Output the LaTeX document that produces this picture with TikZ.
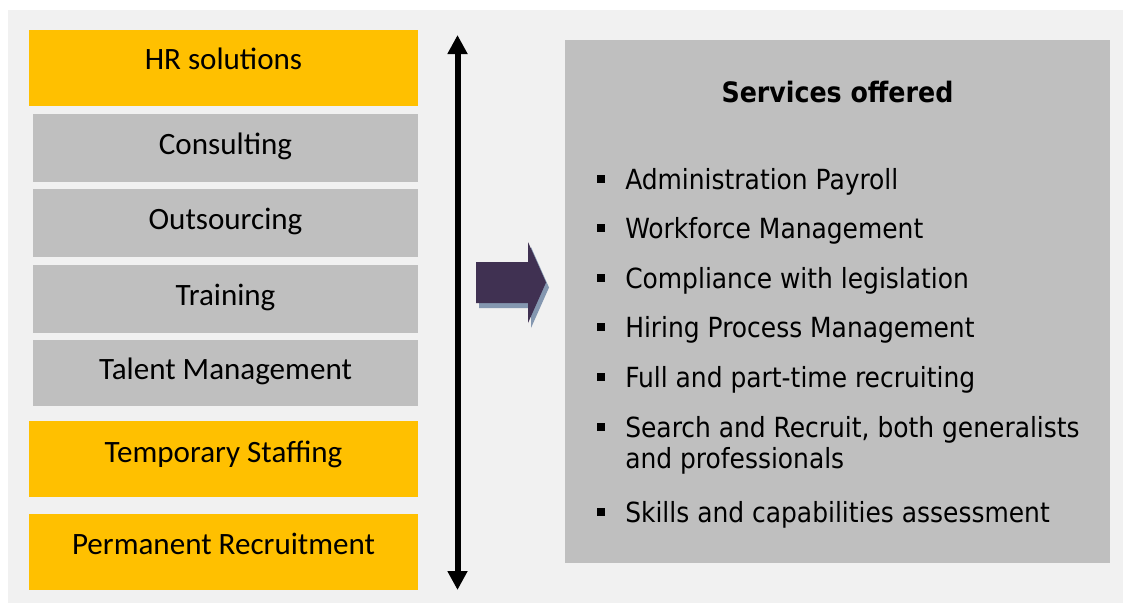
\documentclass[tikz,border=0pt]{standalone}
\usepackage{fontspec}
\setmainfont{Carlito}
\newfontfamily\listfont{DejaVu Sans Condensed}
\usetikzlibrary{arrows.meta}
\definecolor{pagebg}{HTML}{F1F1F1}
\definecolor{keyyellow}{HTML}{FFC000}
\definecolor{subgray}{HTML}{BFBFBF}
\definecolor{arrowpurple}{HTML}{403152}
\definecolor{arrowshade}{HTML}{8497B0}
\newcommand\itembullet{\rule[4.5pt]{6pt}{6pt}\hspace{15pt}}
\begin{document}
\begin{tikzpicture}[x=0.75pt,y=-0.75pt,
  tile/.style={anchor=north west, inner sep=0pt, outer sep=0pt, align=flush center,
    font=\fontsize{23.3pt}{27pt}\selectfont},
  keytile/.style={tile, fill=keyyellow, text width=291.75pt},
  subtile/.style={tile, fill=subgray, text width=288.75pt},
  item/.style={anchor=base west, inner sep=0pt, align=left,
    font=\listfont\fontsize{20.8pt}{23.25pt}\selectfont}
]
\useasboundingbox (0,0) rectangle (1123,603);
\fill[pagebg] (8,10) rectangle (1123,603);

% left column of service lines
\node[keytile, text height=29.25pt, text depth=27.75pt] (hr) at (29,30) {HR solutions};
\node[subtile, text height=30pt, text depth=21pt] (cons) at (33,114) {Consulting};
\node[subtile, text height=30pt, text depth=21pt] (outs) at (33,189) {Outsourcing};
\node[subtile, text height=30pt, text depth=21pt] (train) at (33,265) {Training};
\node[subtile, text height=29.25pt, text depth=20.25pt] (talent) at (33,340) {Talent Management};
\node[keytile, text height=30.75pt, text depth=26.25pt] (temp) at (29,421) {Temporary Staffing};
\node[keytile, text height=30pt, text depth=27pt] (perm) at (29,514) {Permanent Recruitment};

% double-headed vertical arrow
\coordinate (spanTop) at (457.5,35);
\coordinate (spanBot) at (457.5,590);
\draw[line width=4.5pt, {Triangle[length=14.25pt,width=14.25pt]}-{Triangle[length=14.25pt,width=14.25pt]}] (spanBot) -- (spanTop);

% block arrow with its shadow
\begin{scope}[shift={(3,5)}]
  \fill[arrowshade] (476,262) -- (528,262) -- (528,242) -- (546,282.5) -- (528,323) -- (528,303) -- (476,303) -- cycle;
\end{scope}
\fill[arrowpurple] (476,262) -- (528,262) -- (528,242) -- (546,282.5) -- (528,323) -- (528,303) -- (476,303) -- cycle;

% services panel
\node[fill=subgray, anchor=north west, inner sep=0pt, outer sep=0pt,
  minimum width=408.75pt, minimum height=392.25pt] (panel) at (565,40) {};
\node[anchor=base, inner sep=0pt, font=\listfont\bfseries\fontsize{21.1pt}{25pt}\selectfont]
  (title) at (837.5,102) {Services offered};
\node[item] (i1) at (597,189) {\itembullet Administration Payroll};
\node[item] (i2) at (597,238) {\itembullet Workforce Management};
\node[item] (i3) at (597,288) {\itembullet Compliance with legislation};
\node[item] (i4) at (597,337) {\itembullet Hiring Process Management};
\node[item] (i5) at (597,387) {\itembullet Full and part-time recruiting};
\node[item] (i6) at (597,437) {\itembullet\begin{tabular}[t]{@{}l@{}}Search and Recruit, both generalists\\and professionals\end{tabular}};
\node[item] (i7) at (597,522) {\itembullet Skills and capabilities assessment};
\end{tikzpicture}
\end{document}
